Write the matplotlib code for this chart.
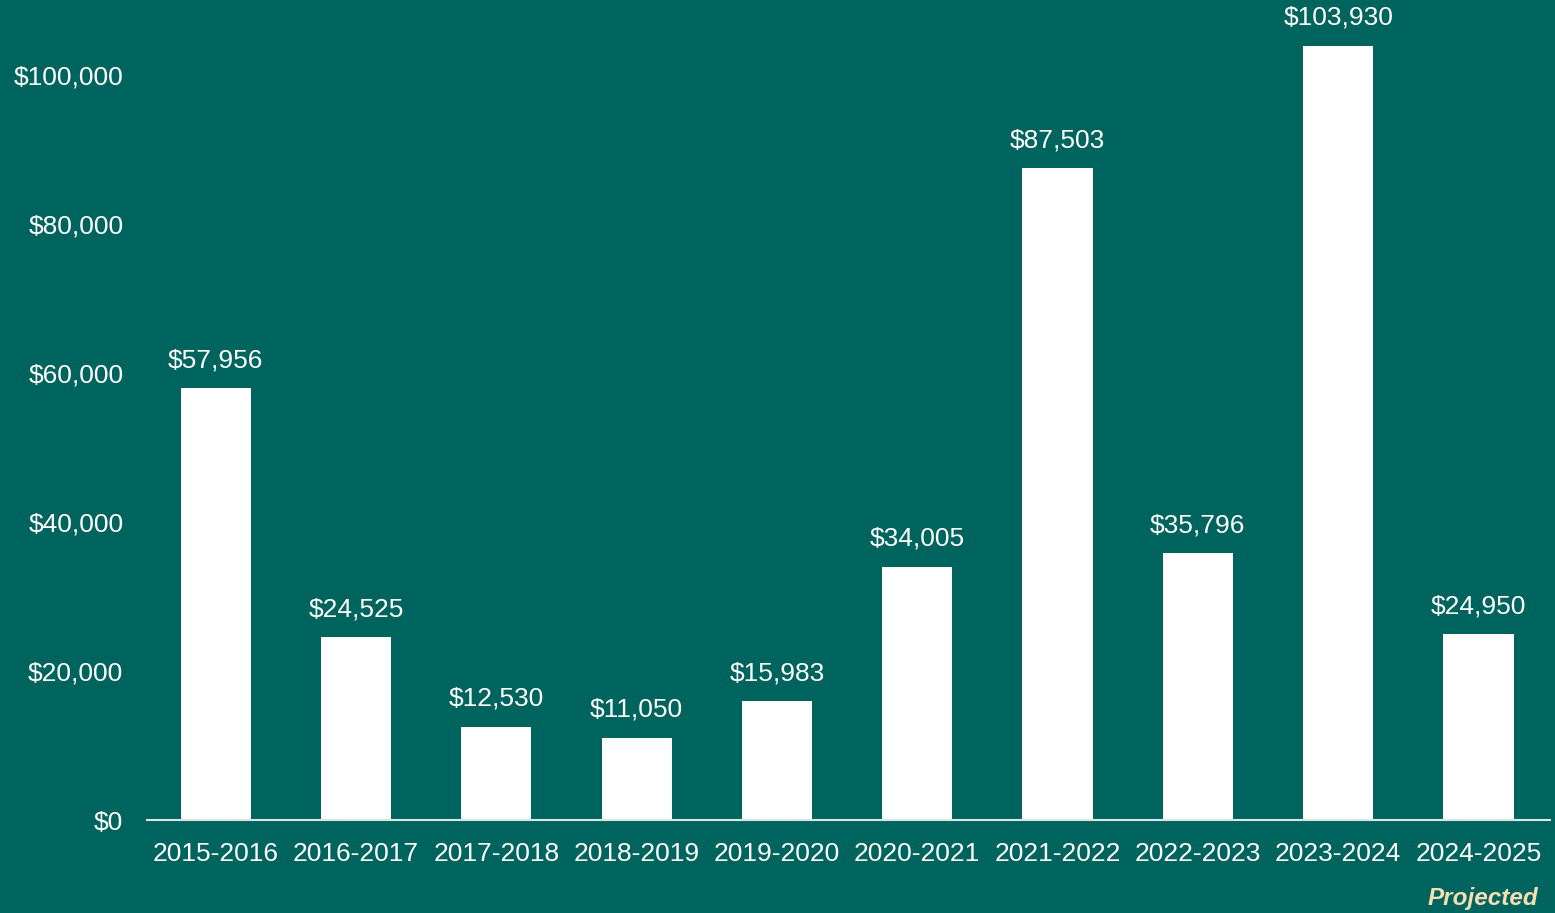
import matplotlib.pyplot as plt
from matplotlib.ticker import FuncFormatter

years = ['2015-2016', '2016-2017', '2017-2018', '2018-2019', '2019-2020',
         '2020-2021', '2021-2022', '2022-2023', '2023-2024', '2024-2025']
amounts = [57956, 24525, 12530, 11050, 15983, 34005, 87503, 35796, 103930, 24950]

bg = '#00645e'
plt.rcParams['font.family'] = ['Liberation Sans', 'DejaVu Sans']

fig = plt.figure(figsize=(15.55, 9.13), dpi=100, facecolor=bg)
ax = fig.add_axes([147 / 1555, 93 / 913, 1403 / 1555, 820 / 913])
ax.set_facecolor(bg)

x = range(len(years))
bars = ax.bar(x, amounts, width=0.5, color='white', zorder=2)
for b, v in zip(bars, amounts):
    ax.annotate('${:,}'.format(v), (b.get_x() + b.get_width() / 2, v),
                xytext=(0, 15), textcoords='offset points', ha='center', va='baseline',
                color='white', fontsize=19)

ax.set_xlim(-0.49, 9.51)
ax.set_ylim(0, 110070)
ax.set_xticks(list(x))
ax.set_xticklabels(years)
ax.set_yticks([0, 20000, 40000, 60000, 80000, 100000])
ax.yaxis.set_major_formatter(FuncFormatter(lambda v, p: '${:,.0f}'.format(v)))
ax.tick_params(axis='both', length=0, colors='white', labelsize=19)
ax.tick_params(axis='x', pad=16)
ax.tick_params(axis='y', pad=17)

for s in ['top', 'right', 'left']:
    ax.spines[s].set_visible(False)
ax.spines['bottom'].set_color('#d9e6e4')
ax.spines['bottom'].set_linewidth(1.5)
ax.spines['bottom'].set_zorder(3)

fig.text(1538 / 1555, 1 - 898 / 913, 'Projected', ha='right', va='center',
         color='#f5deb3', fontsize=17.5, fontweight='bold', fontstyle='italic')

fig.savefig('out.png', dpi=100, facecolor=bg)
